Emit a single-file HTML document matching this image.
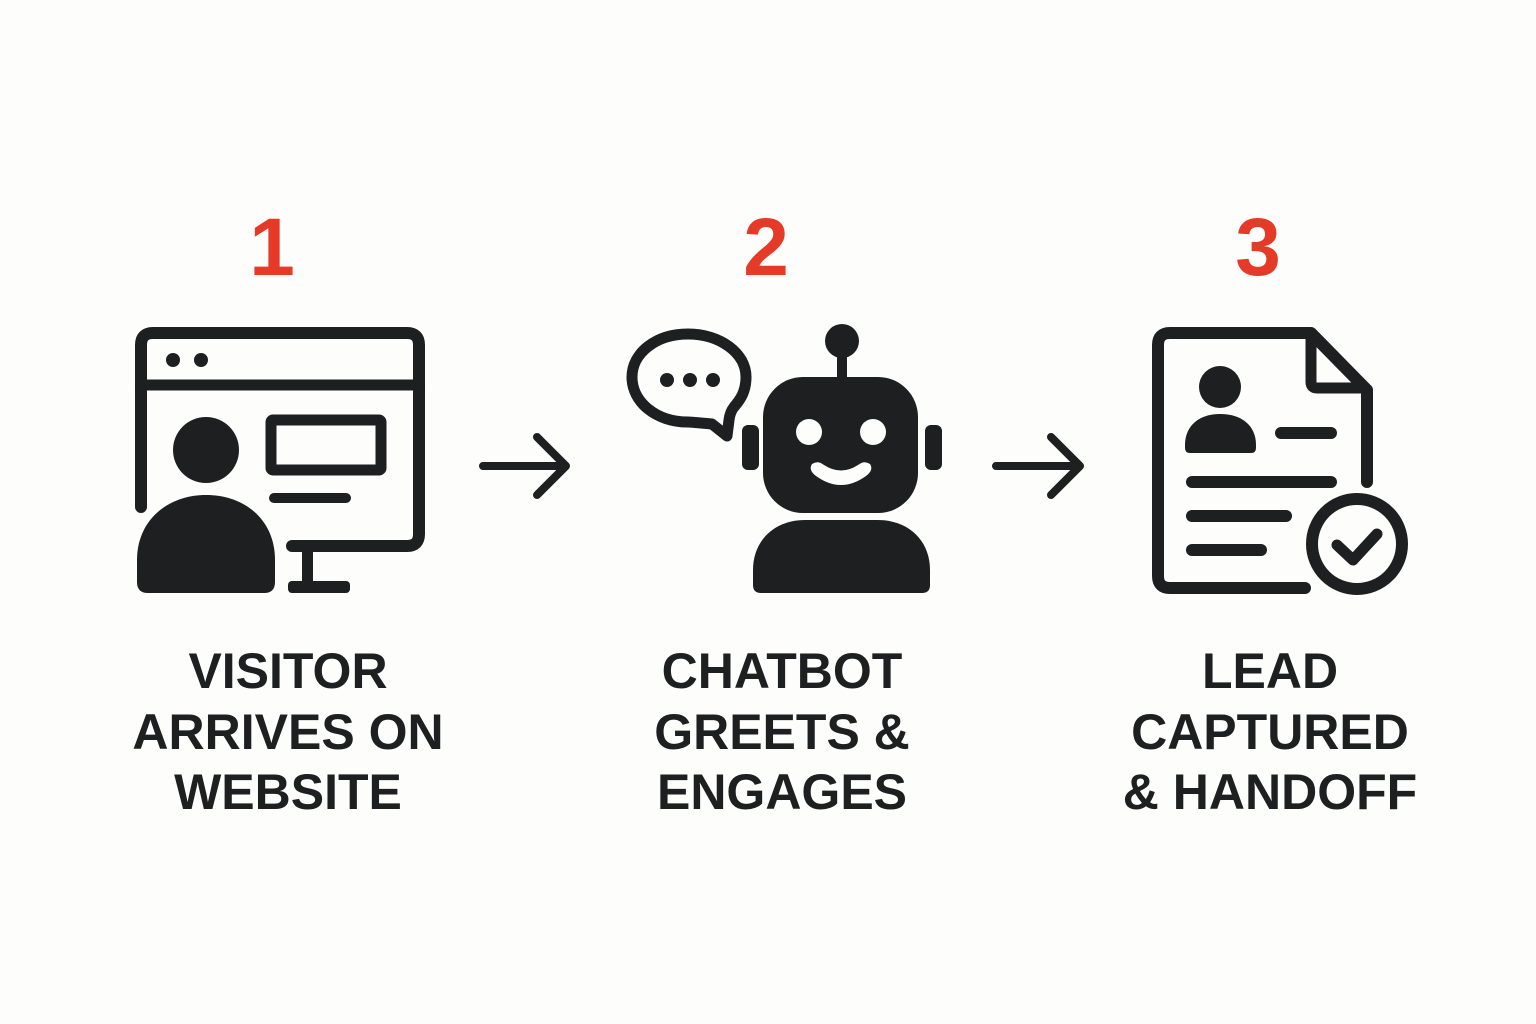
<!DOCTYPE html>
<html><head><meta charset="utf-8"><style>
html,body{margin:0;padding:0;background:#fdfdfc;}
svg{display:block}
</style></head><body>
<svg width="1536" height="1024" viewBox="0 0 1536 1024" xmlns="http://www.w3.org/2000/svg">
<rect width="1536" height="1024" fill="#fdfdfc"/>
<g font-family="Liberation Sans, sans-serif" font-weight="bold" text-anchor="middle">
<text x="272" y="275" font-size="82" fill="#e53a28">1</text>
<text x="766" y="275" font-size="82" fill="#e53a28">2</text>
<text x="1258" y="275" font-size="82" fill="#e53a28">3</text>
<g font-size="50" fill="#1e1f20">
<text x="288" y="688">VISITOR</text>
<text x="288" y="749">ARRIVES ON</text>
<text x="288" y="809">WEBSITE</text>
<text x="782" y="688">CHATBOT</text>
<text x="782" y="749">GREETS &amp;</text>
<text x="782" y="809">ENGAGES</text>
<text x="1270" y="688">LEAD</text>
<text x="1270" y="749">CAPTURED</text>
<text x="1270" y="809">&amp; HANDOFF</text>
</g></g>
<g fill="none" stroke="#1e1f20" stroke-linecap="round" stroke-linejoin="round">
<path d="M141 507 V345 Q141 333 153 333 H407 Q419 333 419 345 V534 Q419 546 407 546 H292" stroke-width="12"/>
<line x1="141" y1="385" x2="419" y2="385" stroke-width="11"/>
<rect x="271" y="420" width="110" height="50" rx="2" stroke-width="11"/>
<line x1="274" y1="498" x2="346" y2="498" stroke-width="10"/>
<path d="M483 466 H566 M537 437 L566 466 L537 495" stroke-width="8"/>
<path d="M996 466 H1080 M1051 437 L1080 466 L1051 495" stroke-width="8"/>
<path d="M712 424 Q690 422 688 422 C656 422 632 402 632 377 C632 353 656 334 688 334 C720 334 746 353 746 377 C746 392 740 400 734 407 Q730 412 729 420 L727 436 Z" stroke-width="11"/>
<line x1="842" y1="355" x2="842" y2="380" stroke-width="10"/>
<path d="M1305 588 H1170 Q1158 588 1158 576 V345 Q1158 333 1170 333 H1311 L1367 390 V482" stroke-width="12"/>
<path d="M1311 336 V382 Q1311 388 1317 388 H1365" stroke-width="11"/>
<line x1="1281" y1="433" x2="1331" y2="433" stroke-width="12"/>
<line x1="1192" y1="482" x2="1331" y2="482" stroke-width="12"/>
<line x1="1192" y1="516" x2="1286" y2="516" stroke-width="12"/>
<line x1="1192" y1="550" x2="1261" y2="550" stroke-width="12"/>
<circle cx="1357" cy="544" r="45" stroke-width="12" fill="#fdfdfc"/>
<path d="M1337 545 L1353 560 L1377 534" stroke-width="11"/>
</g>
<g fill="#1e1f20">
<circle cx="173" cy="360" r="7"/><circle cx="201" cy="360" r="7"/>
<circle cx="206" cy="450" r="33"/>
<path d="M137 580 V560 C137 520 168 495 206 495 C245 495 275 520 275 560 V582 Q275 593 264 593 H148 Q137 593 137 582 Z"/>
<rect x="302" y="549" width="11" height="36"/>
<rect x="288" y="581" width="62" height="12" rx="4"/>
<circle cx="667" cy="380" r="7"/><circle cx="690" cy="380" r="7"/><circle cx="713" cy="380" r="7"/>
<circle cx="842" cy="341" r="17"/>
<rect x="763" y="377" width="155" height="136" rx="40"/>
<rect x="742" y="425" width="17" height="45" rx="6"/>
<rect x="925" y="425" width="17" height="45" rx="6"/>
<path d="M753 585 V570 C753 540 775 520 805 520 H878 C908 520 930 540 930 570 V585 Q930 593 922 593 H761 Q753 593 753 585 Z"/>
<circle cx="1220" cy="387" r="21"/>
<path d="M1185 448 V445 C1185 425 1200 414 1220 414 C1241 414 1256 425 1256 445 V448 Q1256 453 1251 453 H1190 Q1185 453 1185 448 Z"/>
</g>
<g fill="#fdfdfc">
<circle cx="809" cy="432" r="13"/><circle cx="873" cy="432" r="13"/>
<path d="M812 464 Q818 460 824 465 Q841 476 858 465 Q864 460 870 464 Q874 470 866 476 Q841 494 816 476 Q808 470 812 464 Z"/>
</g>
</svg>
</body></html>
